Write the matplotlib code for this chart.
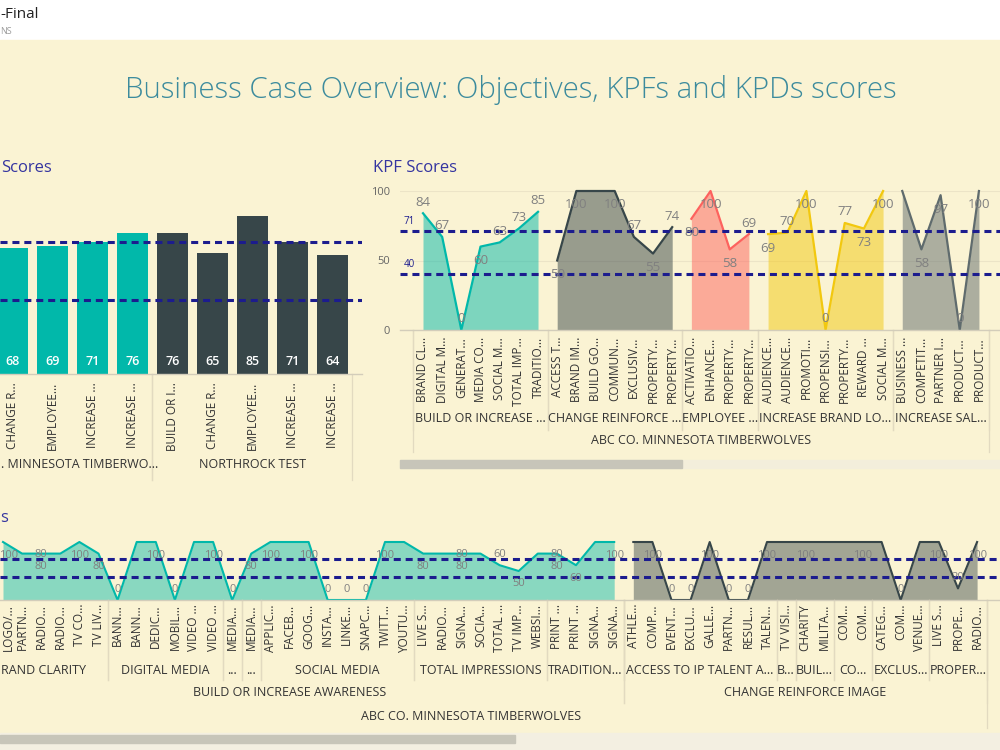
import numpy as np
import matplotlib
matplotlib.use("Agg")
import matplotlib.pyplot as plt
from matplotlib.patches import Rectangle
from matplotlib.lines import Line2D
from matplotlib.transforms import blended_transform_factory, ScaledTranslation

plt.rcParams['font.family'] = ['Open Sans', 'DejaVu Sans']

# ---------------- data ----------------
thresholds = [71, 40]

# Objective scores (bar chart)
abc_objectives = ["CHANGE R...", "EMPLOYEE...", "INCREASE ...", "INCREASE ..."]
abc_scores = [68, 69, 71, 76]
northrock_objectives = ["BUILD OR I...", "CHANGE R...", "EMPLOYEE...", "INCREASE ...", "INCREASE ..."]
northrock_scores = [76, 65, 85, 71, 64]
# the first client label is only partly visible (scrolled off to the left)
bar_clients = [". MINNESOTA TIMBERWO...", "NORTHROCK TEST"]

# KPF scores, one series per objective
kpf_objectives = ["BUILD OR INCREASE ...", "CHANGE REINFORCE ...", "EMPLOYEE ...",
                  "INCREASE BRAND LO...", "INCREASE SAL..."]
kpf_build_labels = ["BRAND CL...", "DIGITAL M...", "GENERAT...", "MEDIA CO...",
                    "SOCIAL M...", "TOTAL IMP...", "TRADITIO..."]
kpf_build_values = [84, 67, 0, 60, 63, 73, 85]
kpf_change_labels = ["ACCESS T...", "BRAND IM...", "BUILD GO...", "COMMUN...",
                     "EXCLUSIV...", "PROPERTY...", "PROPERTY..."]
kpf_change_values = [50, 100, 100, 100, 67, 55, 74]
kpf_employee_labels = ["ACTIVATIO...", "ENHANCE...", "PROPERTY...", "PROPERTY..."]
kpf_employee_values = [80, 100, 58, 69]
kpf_brand_labels = ["AUDIENCE...", "AUDIENCE...", "PROMOTI...", "PROPENSI...",
                    "PROPERTY...", "REWARD ...", "SOCIAL M..."]
kpf_brand_values = [69, 70, 100, 0, 77, 73, 100]
kpf_sales_labels = ["BUSINESS ...", "COMPETIT...", "PARTNER I...", "PRODUCT...", "PRODUCT..."]
kpf_sales_values = [100, 58, 97, 0, 100]
kpf_client = "ABC CO. MINNESOTA TIMBERWOLVES"

# KPD scores, one series per objective
kpd_awareness_labels = ["LOGO/...", "PARTN...", "RADIO...", "RADIO...", "TV CO...", "TV LIV...",
                        "BANN...", "BANN...", "DEDIC...", "MOBIL...", "VIDEO ...", "VIDEO ...",
                        "MEDIA...", "MEDIA...",
                        "APPLIC...", "FACEB...", "GOOG...", "INSTA...", "LINKE...", "SNAPC...",
                        "TWITT...", "YOUTU...",
                        "LIVE S...", "RADIO...", "SIGNA...", "SOCIA...", "TOTAL ...", "TV IMP...",
                        "WEBSI...",
                        "PRINT ...", "PRINT ...", "SIGNA...", "SIGNA..."]
kpd_awareness_values = [100, 80, 80, 80, 100, 80,
                        0, 100, 100, 0, 100, 100,
                        0, 80,
                        100, 100, 100, 0, 0, 0, 100, 100,
                        80, 80, 80, 80, 60, 50, 80,
                        80, 60, 100, 100]
kpd_image_labels = ["ATHLE...", "COMP...", "EVENT...", "EXCLU...", "GALLE...", "PARTN...",
                    "RESUL...", "TALEN...", "TV VISI...", "CHARITY", "MILITA...", "COM...",
                    "COM...", "CATEG...", "COM...", "VENUE...", "LIVE S...", "PROPE...", "RADIO..."]
kpd_image_values = [100, 100, 0, 0, 100, 0, 0, 100, 100, 100, 100, 100, 100, 100, 0, 100,
                    100, 20, 100]
# KPD sub-groups (name, number of KPDs); two brand clarity KPDs are scrolled off
kpd_awareness_groups = [("RAND CLARITY", 8), ("DIGITAL MEDIA", 6), ("...", 1), ("...", 1),
                        ("SOCIAL MEDIA", 8), ("TOTAL IMPRESSIONS", 7), ("TRADITION...", 4)]
kpd_image_groups = [("ACCESS TO IP TALENT A...", 8), ("B...", 1), ("BUIL...", 2), ("CO...", 2),
                    ("EXCLUS...", 3), ("PROPER...", 3)]
kpd_objectives = ["BUILD OR INCREASE AWARENESS", "CHANGE REINFORCE IMAGE"]
kpd_client = "ABC CO. MINNESOTA TIMBERWOLVES"

# data label placement (a = above, b = below, d = doubled, '' = hidden)
kpf_label_pos = [["a", "a", "a", "b", "a", "a", "a"],
                 ["b", "b", "", "b", "a", "b", "a"],
                 ["b", "b", "b", "a"],
                 ["b", "a", "b", "a", "a", "b", "b"],
                 ["", "b", "b", "a", "b"]]
kpd_awareness_pos = ["b", "", "d", "", "b", "b", "a", "", "b", "a", "", "b", "a", "b",
                     "b", "", "b", "a", "a", "a", "b", "", "b", "", "d", "", "a", "b", "",
                     "d", "b", "", "b"]
kpd_image_pos = ["", "b", "a", "a", "b", "a", "a", "b", "", "b", "", "", "b", "", "a", "",
                 "b", "a", "b"]

# ---------------- style ----------------
W, H = 1000, 750
bg = "#FAF3D3"
teal = "#01B8AA"
dark = "#374649"
palette = ["#01B8AA", "#374649", "#FD625E", "#F2C80F", "#5F6B6D"]
navy = "#1C1C8E"
title_blue = "#3434A0"
txt = "#333333"
sep_col = "#E2DAC0"
lbl_col = "#808080"


def rect(x0, y0, x1, y1):
    return [x0 / W, 1 - y1 / H, (x1 - x0) / W, (y1 - y0) / H]


def fy(y):
    return 1 - y / H


def pt(px):
    return px * 0.72


fig = plt.figure(figsize=(10, 7.5), dpi=100)
fig.patch.set_facecolor("white")
fig.patches.append(Rectangle((0, 0), 1, fy(40), transform=fig.transFigure,
                             color=bg, zorder=-10))

fig.text(0, fy(15), "-Final", fontsize=11, color="#222222", va="center", ha="left")
fig.text(0, fy(32), "NS", fontsize=6.5, color="#9A9A9A", va="center", ha="left")
fig.text(511 / W, fy(90), "Business Case Overview: Objectives, KPFs and KPDs scores",
         fontsize=21.2, color="#3C8B9D", ha="center", va="center", fontweight="light")


def style_axes(ax):
    ax.set_facecolor("none")
    for s in ["top", "right", "left"]:
        ax.spines[s].set_visible(False)
    ax.spines["bottom"].set_color("#D3CDBA")
    ax.spines["bottom"].set_linewidth(1)


def draw_thresholds(ax):
    for t in thresholds:
        ax.axhline(t, color=navy, lw=2.2, linestyle=(0, (2.3, 1.6)), zorder=5)


def group_row(ax, groups, start, y_text, y_bottom, fontsize=9):
    tr = blended_transform_factory(ax.transData, fig.transFigure)
    pos = start
    for name, n in groups:
        a, b = pos, pos + n - 1
        for edge in (a - 0.5, b + 0.5):
            ax.add_line(Line2D([edge, edge], [fy(y_bottom), ax.get_position().y0],
                               transform=tr, color=sep_col, lw=0.9, clip_on=False))
        t = ax.text((a + b) / 2, fy(y_text), name, transform=tr, ha="center", va="center",
                    fontsize=fontsize, color=txt, clip_on=False)
        # a group cut by the left edge shows only its visible part, from the edge
        left_px = ax.transData.transform(((a + b) / 2, 0))[0]
        if left_px < 60 and a < 0:
            t.set_transform(fig.transFigure)
            t.set_position((1 / W, fy(y_text)))
            t.set_ha("left")
        pos += n


def point_labels(ax, xs, vals, pos, fontsize, up, down):
    for xv, v, p in zip(xs, vals, pos):
        offs = {"a": [up], "b": [-down], "d": [-1, -down]}.get(p, [])
        xpx = ax.transData.transform((xv, 0))[0]
        dx = max(0, 9 - xpx)
        for o in offs:
            ax.annotate(str(v), (xv, v), xytext=(pt(dx), pt(o)), textcoords="offset points",
                        ha="center", va="center", fontsize=fontsize, color=lbl_col, zorder=6)


# ---------------- objective scores (bars) ----------------
fig.text(1 / W, fy(168), "Scores", fontsize=12, color=title_blue, ha="left", va="center")
ax1 = fig.add_axes(rect(0, 188, 362, 374))
style_axes(ax1)
bar_vals = abc_scores + northrock_scores
bar_names = abc_objectives + northrock_objectives
bar_cols = [teal] * len(abc_scores) + [dark] * len(northrock_scores)
bx = np.arange(len(bar_vals))
ax1.bar(bx, bar_vals, width=0.78, color=bar_cols, zorder=2)
for xv, v in zip(bx, bar_vals):
    ax1.annotate(str(v), (xv, 0), xytext=(0, pt(12)), textcoords="offset points",
                 ha="center", va="center", color="white", fontsize=9, fontweight="semibold")
draw_thresholds(ax1)
ax1.set_xlim(-0.31, 8.74)
ax1.set_ylim(0, 100)
ax1.set_yticks([])
ax1.set_xticks(bx)
ax1.set_xticklabels(bar_names, rotation=90, fontsize=8.5, color=txt)
ax1.tick_params(axis="x", length=0, pad=pt(8))
group_row(ax1, [(bar_clients[0], len(abc_scores) + 1), (bar_clients[1], len(northrock_scores))],
          -1, 465, 480)

# ---------------- KPF scores ----------------
fig.text(373 / W, fy(168), "KPF Scores", fontsize=12, color=title_blue, ha="left", va="center")
ax2 = fig.add_axes(rect(400, 191, 1000, 330))
style_axes(ax2)
step2 = 19.17
ax2.set_xlim((400 - 423) / step2, (1000 - 423) / step2)
ax2.set_ylim(0, 100)
ax2.set_yticks([0, 50, 100])
ax2.tick_params(axis="y", length=0, pad=pt(10), labelsize=8, labelcolor="#666666")
ax2.yaxis.grid(True, color="#ECE4C7", lw=0.8)
ax2.set_axisbelow(True)

kpf_labels = [kpf_build_labels, kpf_change_labels, kpf_employee_labels, kpf_brand_labels,
              kpf_sales_labels]
kpf_values = [kpf_build_values, kpf_change_values, kpf_employee_values, kpf_brand_values,
              kpf_sales_values]
start = 0
all_kpf_names = []
for names, vals, pos, col in zip(kpf_labels, kpf_values, kpf_label_pos, palette):
    xs = np.arange(start, start + len(vals))
    ax2.fill_between(xs, vals, color=col, alpha=0.5, lw=0, zorder=1)
    ax2.plot(xs, vals, color=col, lw=1.6, zorder=2, clip_on=False)
    point_labels(ax2, xs, vals, pos, 9.5, 11, 14)
    all_kpf_names += names
    start += len(vals)
draw_thresholds(ax2)
for t in thresholds:
    ax2.annotate(str(t), (ax2.get_xlim()[0], t), xytext=(pt(4), pt(10)),
                 textcoords="offset points", fontsize=7, color=navy, ha="left", va="center")
ax2.set_xticks(np.arange(len(all_kpf_names)))
ax2.set_xticklabels(all_kpf_names, rotation=90, fontsize=8.5, color=txt)
ax2.tick_params(axis="x", length=0, pad=pt(7))
group_row(ax2, [(n, len(v)) for n, v in zip(kpf_objectives, kpf_values)], 0, 418, 430)
group_row(ax2, [(kpf_client, len(all_kpf_names))], 0, 441, 452)

fig.patches.append(Rectangle((400 / W, fy(468)), 600 / W, 8 / H, transform=fig.transFigure,
                             color="#F3EEDB", zorder=1))
fig.patches.append(Rectangle((400 / W, fy(468)), 282 / W, 8 / H, transform=fig.transFigure,
                             color="#C7C5B9", zorder=2))

# ---------------- KPD scores ----------------
fig.text(0, fy(518), "s", fontsize=12, color=title_blue, ha="left", va="center")
ax3 = fig.add_axes(rect(0, 542, 1000, 600))
style_axes(ax3)
step3 = 19.1
ax3.set_xlim((0 - 3) / step3, (1000 - 3) / step3)
ax3.set_ylim(0, 100)
ax3.set_yticks([])
n_aw = len(kpd_awareness_values)
kpd_series = [(np.arange(n_aw), kpd_awareness_values, kpd_awareness_pos, palette[0]),
              (np.arange(n_aw, n_aw + len(kpd_image_values)), kpd_image_values, kpd_image_pos,
               palette[1])]
for xs, vals, pos, col in kpd_series:
    ax3.fill_between(xs, vals, color=col, alpha=0.45, lw=0, zorder=1)
    ax3.plot(xs, vals, color=col, lw=1.5, zorder=2, clip_on=False)
    point_labels(ax3, xs, vals, pos, 8, 11, 13)
draw_thresholds(ax3)
kpd_names = kpd_awareness_labels + kpd_image_labels
ax3.set_xticks(np.arange(len(kpd_names)))
ax3.set_xticklabels(kpd_names, rotation=90, fontsize=8.5, color=txt)
ax3.tick_params(axis="x", length=0, pad=pt(4))
# keep the first, edge-hugging tick label inside the picture
first = ax3.get_xticklabels()[0]
first.set_transform(first.get_transform() + ScaledTranslation(5 / 100, 0, fig.dpi_scale_trans))
hidden = sum(n for _, n in kpd_awareness_groups) - n_aw
group_row(ax3, kpd_awareness_groups + kpd_image_groups, -hidden, 670, 680)
group_row(ax3, [(kpd_objectives[0], n_aw + hidden), (kpd_objectives[1], len(kpd_image_values))],
          -hidden, 692, 703)
group_row(ax3, [(kpd_client, len(kpd_names) + hidden)], -hidden, 716, 728)

fig.patches.append(Rectangle((0, 0), 1, fy(733), transform=fig.transFigure,
                             color="#F3EFE1", zorder=1))
fig.patches.append(Rectangle((0, fy(743)), 515 / W, 8 / H, transform=fig.transFigure,
                             color="#C7C5B9", zorder=2))

fig.savefig("out.png", dpi=100, facecolor=fig.get_facecolor())
